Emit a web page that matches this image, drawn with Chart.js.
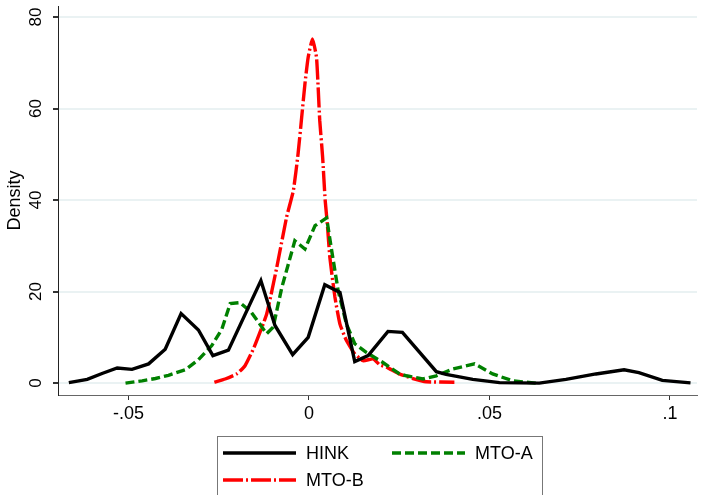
<!DOCTYPE html>
<html>
<head>
<meta charset="utf-8">
<script src="https://cdn.jsdelivr.net/npm/chart.js@4"></script>
<style>
  html, body { margin: 0; padding: 0; background: #fff; }
  #wrap { width: 701px; height: 495px; position: relative; }
</style>
</head>
<body>
<div id="wrap"><canvas id="densityChart" width="701" height="495"></canvas></div>
<script>
// kernel density curves
const hinkX = [-0.0665, -0.0614, -0.0573, -0.0531, -0.0490, -0.0444, -0.0398, -0.0354, -0.0306, -0.0266,
  -0.0223, -0.0133, -0.0094, -0.0045, -0.0002, 0.0044, 0.0086, 0.0127, 0.0164, 0.0219,
  0.0259, 0.0353, 0.0380, 0.0454, 0.0528, 0.0638, 0.0712, 0.0795, 0.0873, 0.0914, 0.0979, 0.1057];
const hinkY = [0.1, 0.8, 2.1, 3.3, 3.0, 4.2, 7.4, 15.2, 11.6, 6.0,
  7.2, 22.4, 12.6, 6.2, 10.0, 21.5, 19.8, 4.7, 6.0, 11.3,
  11.1, 2.5, 1.9, 0.8, 0.1, 0.0, 0.8, 2.0, 2.9, 2.3, 0.6, 0.05];

const mtoAX = [-0.0508, -0.0462, -0.0425, -0.0389, -0.0343, -0.0306, -0.0269, -0.0241, -0.0218, -0.0191,
  -0.0160, -0.0117, -0.0099, -0.0075, -0.0039, -0.0011, 0.0017, 0.0049, 0.0063, 0.0081,
  0.0104, 0.0127, 0.0159, 0.0205, 0.0251, 0.0270, 0.0316, 0.0353, 0.0399, 0.0459, 0.0509, 0.0564, 0.0629];
const mtoAY = [0.0, 0.5, 1.0, 1.7, 2.9, 5.1, 8.2, 11.8, 17.4, 17.6,
  15.5, 10.8, 12.2, 20.9, 31.1, 29.3, 34.4, 36.1, 29.0, 20.2,
  12.9, 8.6, 6.7, 4.5, 2.0, 1.6, 0.9, 1.6, 3.1, 4.2, 2.0, 0.5, 0.0];

const mtoBX = [-0.0262, -0.0232, -0.0200, -0.0177, -0.0152, -0.0117, -0.0089, -0.0062, -0.0043, -0.0030,
  -0.0020, -0.0011, -0.0002, 0.0010, 0.0021, 0.0026, 0.0030, 0.0038, 0.0045, 0.0051,
  0.0058, 0.0072, 0.0086, 0.0104, 0.0127, 0.0150, 0.0178, 0.0196, 0.0215, 0.0251,
  0.0288, 0.0325, 0.0403];
const mtoBY = [0.2, 0.9, 2.0, 3.8, 7.8, 15.1, 25.3, 36.2, 42.1, 50.1,
  58.1, 65.4, 71.2, 75.2, 71.2, 64.0, 57.4, 49.4, 40.0, 34.8,
  27.5, 18.8, 12.9, 9.3, 6.4, 4.9, 5.3, 4.0, 3.5, 2.0,
  1.0, 0.3, 0.2];

const seriesNames = ['HINK', 'MTO-A', 'MTO-B'];
const xTicks = [-0.05, 0, 0.05, 0.1];
const xTickLabels = ['-.05', '0', '.05', '.1'];
const yTicks = [0, 20, 40, 60, 80];
const yTickLabels = ['0', '20', '40', '60', '80'];

const FONT = '"Liberation Sans", Arial, sans-serif';

function toPoints(xs, ys){
  return xs.map((x, i) => ({x: x, y: ys[i]}));
}

// y labels are rotated like Stata, drawn here from the y scale
const yLabelPlugin = {
  id: 'yLabels',
  afterDraw(chart){
    const ctx = chart.ctx;
    const y = chart.scales.y;
    ctx.save();
    ctx.fillStyle = '#000';
    ctx.font = '17px ' + FONT;
    ctx.textAlign = 'center';
    ctx.textBaseline = 'middle';
    yTicks.forEach((v, i) => {
      ctx.save();
      ctx.translate(36, y.getPixelForValue(v));
      ctx.rotate(-Math.PI / 2);
      ctx.fillText(yTickLabels[i], 0, 0);
      ctx.restore();
    });
    ctx.restore();
  }
};

// legend box below the plot, two columns
const legendPlugin = {
  id: 'boxLegend',
  afterDraw(chart){
    const ctx = chart.ctx;
    const ds = chart.data.datasets;
    const slots = [[223, 453], [392, 453], [223, 480]];
    ctx.save();
    ctx.strokeStyle = '#777';
    ctx.lineWidth = 1;
    ctx.strokeRect(217.5, 436.5, 325, 70);
    ctx.font = '18px ' + FONT;
    ctx.textBaseline = 'middle';
    ctx.textAlign = 'left';
    ds.forEach((d, i) => {
      const [sx, sy] = slots[i];
      ctx.beginPath();
      ctx.strokeStyle = d.borderColor;
      ctx.lineWidth = d.borderWidth;
      ctx.setLineDash(d.borderDash || []);
      ctx.moveTo(sx, sy);
      ctx.lineTo(sx + 73, sy);
      ctx.stroke();
      ctx.setLineDash([]);
      ctx.fillStyle = '#000';
      ctx.fillText(d.label, sx + 83, sy + 1);
    });
    ctx.restore();
  }
};

const chart = new Chart(document.getElementById('densityChart'), {
  type: 'line',
  data: {
    datasets: [
      { label: seriesNames[0], data: toPoints(hinkX, hinkY), borderColor: '#000000', borderWidth: 3.4, borderDash: [], pointRadius: 0, tension: 0, fill: false },
      { label: seriesNames[1], data: toPoints(mtoAX, mtoAY), borderColor: '#008000', borderWidth: 3.4, borderDash: [9, 4], pointRadius: 0, tension: 0, fill: false },
      { label: seriesNames[2], data: toPoints(mtoBX, mtoBY), borderColor: '#ff0000', borderWidth: 3.4, borderDash: [20, 3, 2, 3], pointRadius: 0, tension: 0.15, fill: false }
    ]
  },
  options: {
    responsive: false,
    animation: false,
    layout: { padding: { left: 0, right: 4, top: 6, bottom: 0 } },
    plugins: { legend: { display: false }, tooltip: { enabled: false } },
    scales: {
      x: {
        type: 'linear',
        min: -0.0695,
        max: 0.1075,
        afterBuildTicks: s => { s.ticks = xTicks.map(v => ({value: v})); },
        afterFit: s => { s.height = 100; },
        grid: { drawOnChartArea: false, drawTicks: true, tickLength: 5, tickColor: '#333' },
        border: { color: '#666', width: 1 },
        ticks: {
          color: '#000',
          font: { family: FONT, size: 18 },
          padding: 3,
          maxRotation: 0,
          callback: v => xTickLabels[xTicks.indexOf(v)]
        }
      },
      y: {
        type: 'linear',
        min: -2.6,
        max: 82.4,
        afterBuildTicks: s => { s.ticks = yTicks.map(v => ({value: v})); },
        afterFit: s => { s.width = 58; },
        grid: { color: '#eaf2f3', lineWidth: 2, drawTicks: true, tickLength: 5, tickColor: '#333' },
        border: { color: '#222', width: 1 },
        ticks: { display: false },
        title: { display: true, text: 'Density', color: '#000', font: { family: FONT, size: 18 }, padding: { top: 4, bottom: 0 } }
      }
    }
  },
  plugins: [yLabelPlugin, legendPlugin]
});
</script>
</body>
</html>
